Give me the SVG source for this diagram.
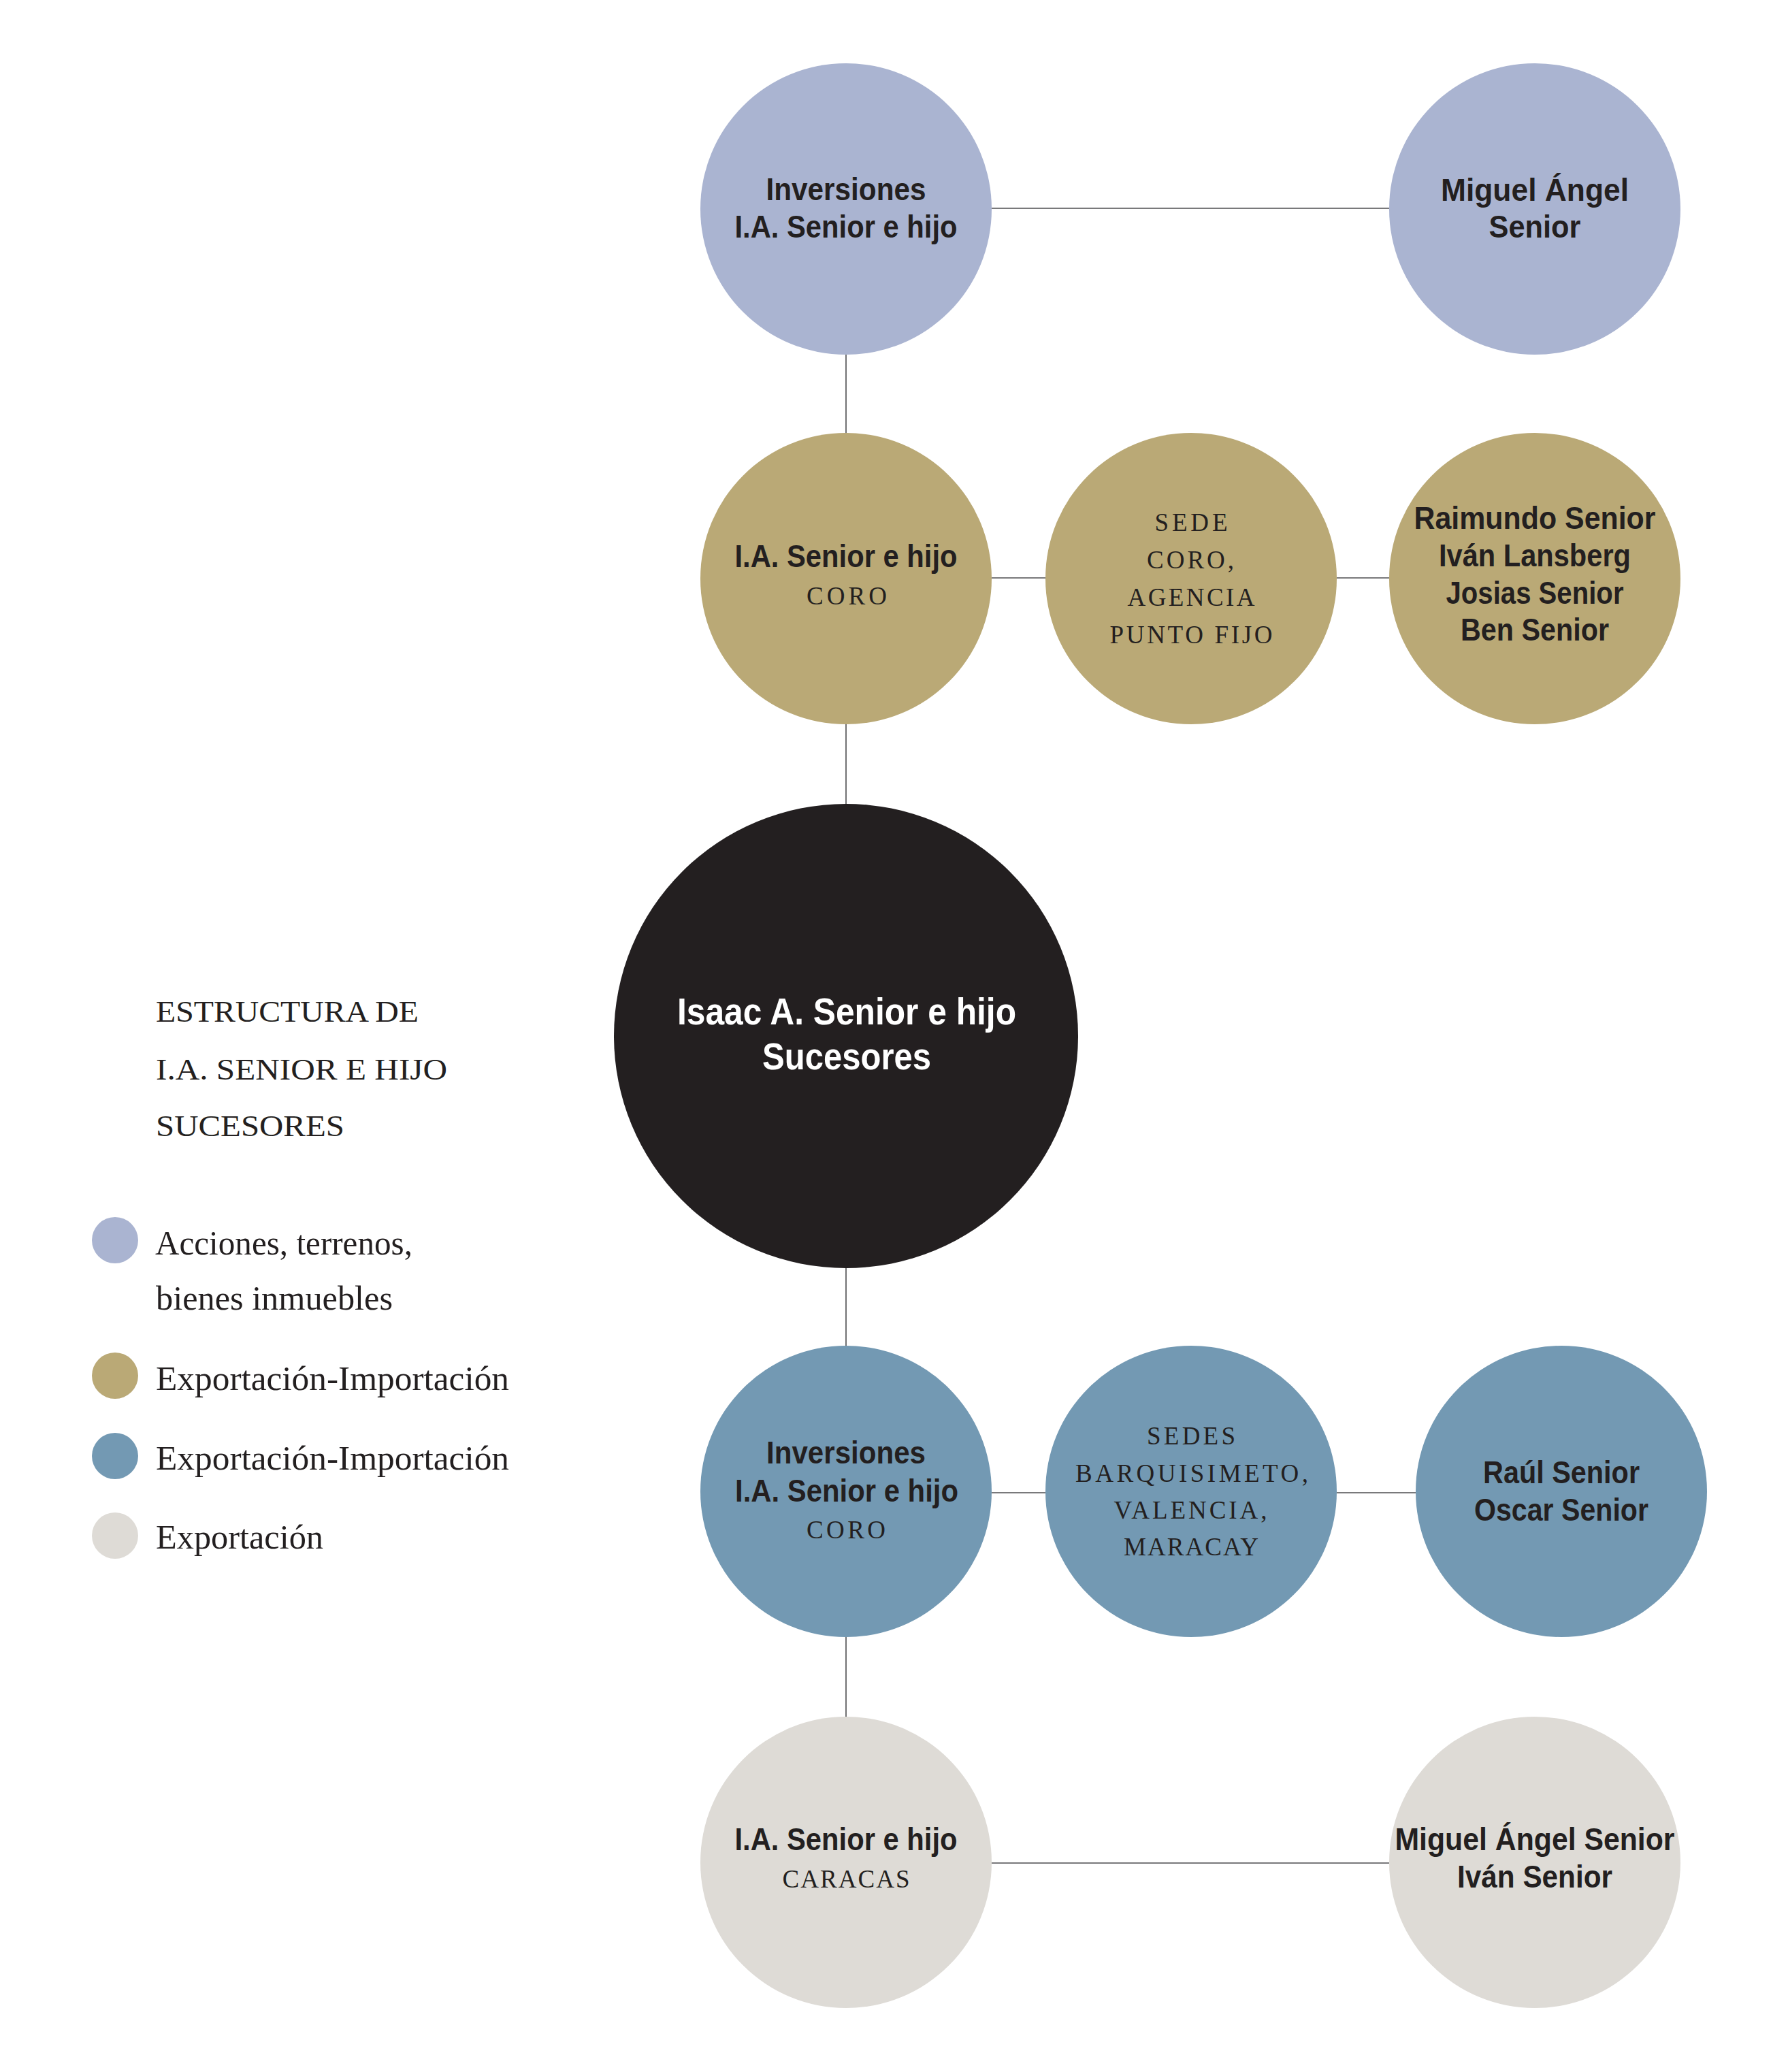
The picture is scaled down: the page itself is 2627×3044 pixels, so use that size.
<svg xmlns="http://www.w3.org/2000/svg" width="2627" height="3044" viewBox="0 0 2627 3044">
<style>
.n{font-family:"Liberation Sans Narrow","Liberation Sans",sans-serif;font-weight:700;font-size:47px;fill:#231f20;text-anchor:middle}
.s{font-family:"Liberation Serif",serif;font-size:37px;fill:#231f20;text-anchor:middle}
.w{font-family:"Liberation Sans",sans-serif;font-weight:700;font-size:56px;fill:#ffffff;text-anchor:middle}
.leg{font-family:"Liberation Serif",serif;font-size:50px;fill:#231f20}
.ttl{font-family:"Liberation Serif",serif;font-size:45px;fill:#231f20}
.c1{fill:#aab4d1}.c2{fill:#baa976}.c3{fill:#7399b3}.c4{fill:#dedbd6}.c0{fill:#231f20}
.ln{stroke:#4d4d4f;stroke-width:1.6;fill:none}
</style>
<rect width="2627" height="3044" fill="#ffffff"/>
<g id="connectors">
<line class="ln" x1="1243" y1="520" x2="1243" y2="637"/>
<line class="ln" x1="1243" y1="1064" x2="1243" y2="1181"/>
<line class="ln" x1="1243" y1="1863" x2="1243" y2="1978"/>
<line class="ln" x1="1243" y1="2405" x2="1243" y2="2522"/>
<line class="ln" x1="1457" y1="306" x2="2041" y2="306"/>
<line class="ln" x1="1457" y1="849" x2="1536" y2="849"/>
<line class="ln" x1="1964" y1="849" x2="2041" y2="849"/>
<line class="ln" x1="1457" y1="2193" x2="1536" y2="2193"/>
<line class="ln" x1="1964" y1="2193" x2="2080" y2="2193"/>
<line class="ln" x1="1457" y1="2737" x2="2041" y2="2737"/>
</g>
<g id="inv-top">
<circle class="c1" cx="1243" cy="307" r="214"/>
<text class="n" x="1243" y="294" textLength="235" lengthAdjust="spacingAndGlyphs">Inversiones</text>
<text class="n" x="1243" y="349" textLength="327" lengthAdjust="spacingAndGlyphs">I.A. Senior e hijo</text>
</g>
<g id="miguel-top">
<circle class="c1" cx="2255" cy="307" r="214"/>
<text class="n" x="2255" y="295" textLength="276" lengthAdjust="spacingAndGlyphs">Miguel Ángel</text>
<text class="n" x="2255" y="349" textLength="135" lengthAdjust="spacingAndGlyphs">Senior</text>
</g>
<g id="ia-coro">
<circle class="c2" cx="1243" cy="850" r="214"/>
<text class="n" x="1243" y="833" textLength="327" lengthAdjust="spacingAndGlyphs">I.A. Senior e hijo</text>
<text class="s" x="1244" y="888" textLength="118" lengthAdjust="spacing">CORO</text>
</g>
<g id="sede-coro">
<circle class="c2" cx="1750" cy="850" r="214"/>
<text class="s" x="1750" y="780" textLength="107" lengthAdjust="spacing">SEDE</text>
<text class="s" x="1749" y="835" textLength="128" lengthAdjust="spacing">CORO,</text>
<text class="s" x="1750" y="890" textLength="187" lengthAdjust="spacing">AGENCIA</text>
<text class="s" x="1750" y="945" textLength="239" lengthAdjust="spacing">PUNTO FIJO</text>
</g>
<g id="socios-coro">
<circle class="c2" cx="2255" cy="850" r="214"/>
<text class="n" x="2255" y="777" textLength="355" lengthAdjust="spacingAndGlyphs">Raimundo Senior</text>
<text class="n" x="2255" y="832" textLength="282" lengthAdjust="spacingAndGlyphs">Iván Lansberg</text>
<text class="n" x="2255" y="887" textLength="261" lengthAdjust="spacingAndGlyphs">Josias Senior</text>
<text class="n" x="2255" y="941" textLength="218" lengthAdjust="spacingAndGlyphs">Ben Senior</text>
</g>
<g id="isaac">
<circle class="c0" cx="1243" cy="1522" r="341"/>
<text class="w" x="1244" y="1505" textLength="498" lengthAdjust="spacingAndGlyphs">Isaac A. Senior e hijo</text>
<text class="w" x="1244" y="1571" textLength="248" lengthAdjust="spacingAndGlyphs">Sucesores</text>
</g>
<g id="inv-coro">
<circle class="c3" cx="1243" cy="2191" r="214"/>
<text class="n" x="1243" y="2150" textLength="234" lengthAdjust="spacingAndGlyphs">Inversiones</text>
<text class="n" x="1244" y="2206" textLength="328" lengthAdjust="spacingAndGlyphs">I.A. Senior e hijo</text>
<text class="s" x="1243" y="2260" textLength="116" lengthAdjust="spacing">CORO</text>
</g>
<g id="sedes">
<circle class="c3" cx="1750" cy="2191" r="214"/>
<text class="s" x="1750" y="2122" textLength="130" lengthAdjust="spacing">SEDES</text>
<text class="s" x="1751" y="2177" textLength="342" lengthAdjust="spacing">BARQUISIMETO,</text>
<text class="s" x="1749" y="2231" textLength="225" lengthAdjust="spacing">VALENCIA,</text>
<text class="s" x="1750" y="2285" textLength="198" lengthAdjust="spacing">MARACAY</text>
</g>
<g id="socios-sedes">
<circle class="c3" cx="2294" cy="2191" r="214"/>
<text class="n" x="2294" y="2179" textLength="230" lengthAdjust="spacingAndGlyphs">Raúl Senior</text>
<text class="n" x="2294" y="2234" textLength="256" lengthAdjust="spacingAndGlyphs">Oscar Senior</text>
</g>
<g id="ia-caracas">
<circle class="c4" cx="1243" cy="2736" r="214"/>
<text class="n" x="1243" y="2718" textLength="327" lengthAdjust="spacingAndGlyphs">I.A. Senior e hijo</text>
<text class="s" x="1243" y="2773" textLength="187" lengthAdjust="spacing">CARACAS</text>
</g>
<g id="socios-caracas">
<circle class="c4" cx="2255" cy="2736" r="214"/>
<text class="n" x="2255" y="2718" textLength="411" lengthAdjust="spacingAndGlyphs">Miguel Ángel Senior</text>
<text class="n" x="2255" y="2773" textLength="228" lengthAdjust="spacingAndGlyphs">Iván Senior</text>
</g>
<g id="title">
<text class="ttl" x="229" y="1501" textLength="386" lengthAdjust="spacingAndGlyphs">ESTRUCTURA DE</text>
<text class="ttl" x="229" y="1586" textLength="428" lengthAdjust="spacingAndGlyphs">I.A. SENIOR E HIJO</text>
<text class="ttl" x="229" y="1669" textLength="277" lengthAdjust="spacingAndGlyphs">SUCESORES</text>
</g>
<g id="legend">
<g id="leg1"><circle class="c1" cx="169" cy="1822" r="34"/>
<text class="leg" x="228" y="1843" textLength="378" lengthAdjust="spacingAndGlyphs">Acciones, terrenos,</text>
<text class="leg" x="229" y="1924" textLength="348" lengthAdjust="spacingAndGlyphs">bienes inmuebles</text></g>
<g id="leg2"><circle class="c2" cx="169" cy="2021" r="34"/>
<text class="leg" x="229" y="2042" textLength="519" lengthAdjust="spacingAndGlyphs">Exportación-Importación</text></g>
<g id="leg3"><circle class="c3" cx="169" cy="2139" r="34"/>
<text class="leg" x="229" y="2159" textLength="519" lengthAdjust="spacingAndGlyphs">Exportación-Importación</text></g>
<g id="leg4"><circle class="c4" cx="169" cy="2256" r="34"/>
<text class="leg" x="229" y="2275" textLength="246" lengthAdjust="spacingAndGlyphs">Exportación</text></g>
</g>
</svg>
